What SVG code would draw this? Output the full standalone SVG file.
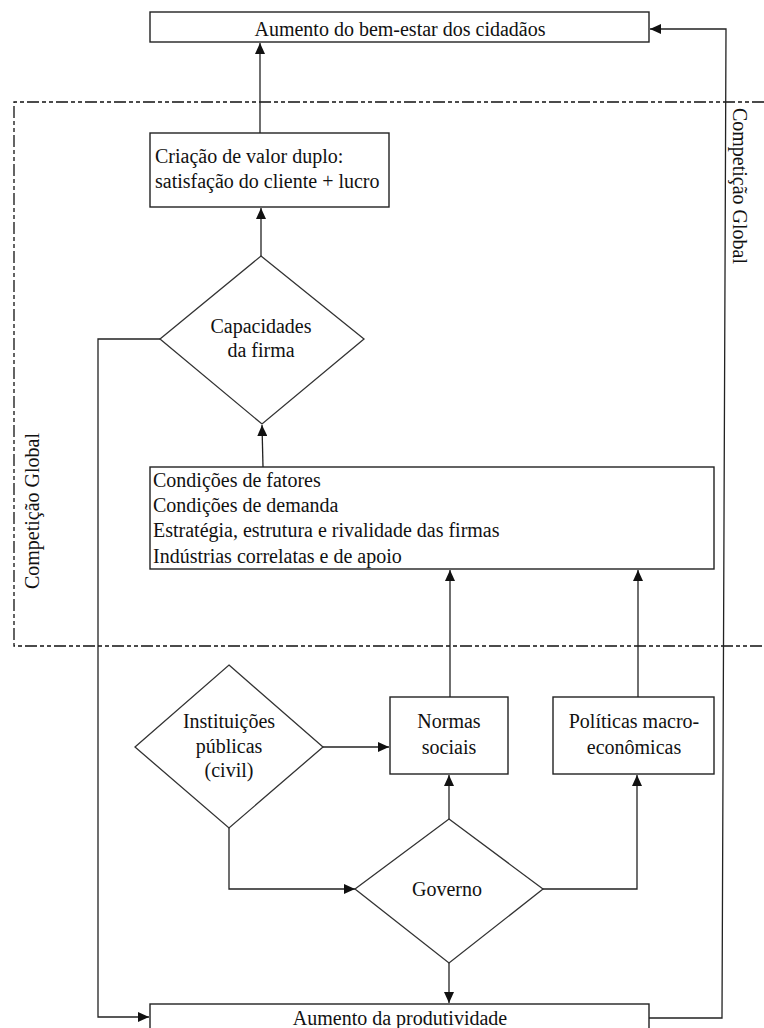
<svg xmlns="http://www.w3.org/2000/svg" width="764" height="1028" viewBox="0 0 764 1028">
<style>
  .box{fill:#fff;stroke:#222;stroke-width:1.4}
  .dia{fill:#fff;stroke:#333;stroke-width:1.3}
  .t{font-family:"Liberation Serif","Times New Roman",serif;font-size:20px;fill:#111}
  .c{text-anchor:middle}
  .ln{fill:none;stroke:#222;stroke-width:1.3}
  .frame{fill:none;stroke:#111;stroke-width:1.3;stroke-dasharray:12 3 4 3 4 3}
</style>
<defs>
  <marker id="ah" markerUnits="userSpaceOnUse" markerWidth="11" markerHeight="10" refX="11" refY="5" orient="auto">
    <path d="M0,0 L11,5 L0,10 z" fill="#111"/>
  </marker>
</defs>
<rect width="764" height="1028" fill="#fff"/>

<g id="frame">
  <path class="frame" d="M764,102 L14,102 L14,646 L764,646"/>
  <text class="t c" transform="translate(39,511) rotate(-90)">Competição Global</text>
  <text class="t c" transform="translate(733,186) rotate(90)">Competição Global</text>
</g>

<g id="connectors">
  <path class="ln" d="M260,133 L260,43" marker-end="url(#ah)"/>
  <path class="ln" d="M261,256 L261,208" marker-end="url(#ah)"/>
  <path class="ln" d="M263,467 L262,425" marker-end="url(#ah)"/>
  <path class="ln" d="M450,697 L450,570" marker-end="url(#ah)"/>
  <path class="ln" d="M638,697 L638,570" marker-end="url(#ah)"/>
  <path class="ln" d="M323,747 L389,747" marker-end="url(#ah)"/>
  <path class="ln" d="M229,828 L229,889 L355,889" marker-end="url(#ah)"/>
  <path class="ln" d="M449,819 L449,775" marker-end="url(#ah)"/>
  <path class="ln" d="M543,889 L637,889 L637,775" marker-end="url(#ah)"/>
  <path class="ln" d="M449,963 L449,1003" marker-end="url(#ah)"/>
  <path class="ln" d="M160,339 L98,339 L98,1017 L149,1017" marker-end="url(#ah)"/>
  <path class="ln" d="M649,1018 L722,1018 L726,29 L650,29" marker-end="url(#ah)"/>
</g>

<g id="bem-estar">
  <rect class="box" x="150" y="12" width="499" height="30"/>
  <text class="t c" x="400" y="36">Aumento do bem-estar dos cidadãos</text>
</g>

<g id="criacao">
  <rect class="box" x="150" y="133" width="239" height="74"/>
  <text class="t" x="155" y="163">Criação de valor duplo:</text>
  <text class="t" x="155" y="188">satisfação do cliente + lucro</text>
</g>

<g id="capacidades">
  <polygon class="dia" points="261,256 364,339 262,424 160,339"/>
  <text class="t c" x="261" y="333">Capacidades</text>
  <text class="t c" x="261" y="357">da firma</text>
</g>

<g id="condicoes">
  <rect class="box" x="150" y="467" width="564" height="102"/>
  <text class="t" x="153" y="487">Condições de fatores</text>
  <text class="t" x="153" y="512">Condições de demanda</text>
  <text class="t" x="153" y="537">Estratégia, estrutura e rivalidade das firmas</text>
  <text class="t" x="153" y="563">Indústrias correlatas e de apoio</text>
</g>

<g id="instituicoes">
  <polygon class="dia" points="229,665 323,747 229,828 135,747"/>
  <text class="t c" x="229" y="728">Instituições</text>
  <text class="t c" x="229" y="753">públicas</text>
  <text class="t c" x="229" y="777">(civil)</text>
</g>

<g id="normas">
  <rect class="box" x="390" y="697" width="118" height="77"/>
  <text class="t c" x="449" y="728">Normas</text>
  <text class="t c" x="449" y="754">sociais</text>
</g>

<g id="politicas">
  <rect class="box" x="553" y="697" width="161" height="77"/>
  <text class="t c" x="634" y="728">Políticas macro-</text>
  <text class="t c" x="634" y="754">econômicas</text>
</g>

<g id="governo">
  <polygon class="dia" points="449,819 543,889 449,963 355,889"/>
  <text class="t c" x="447" y="896">Governo</text>
</g>

<g id="produtividade">
  <rect class="box" x="150" y="1004" width="499" height="40"/>
  <text class="t c" x="400" y="1025">Aumento da produtividade</text>
</g>
</svg>
